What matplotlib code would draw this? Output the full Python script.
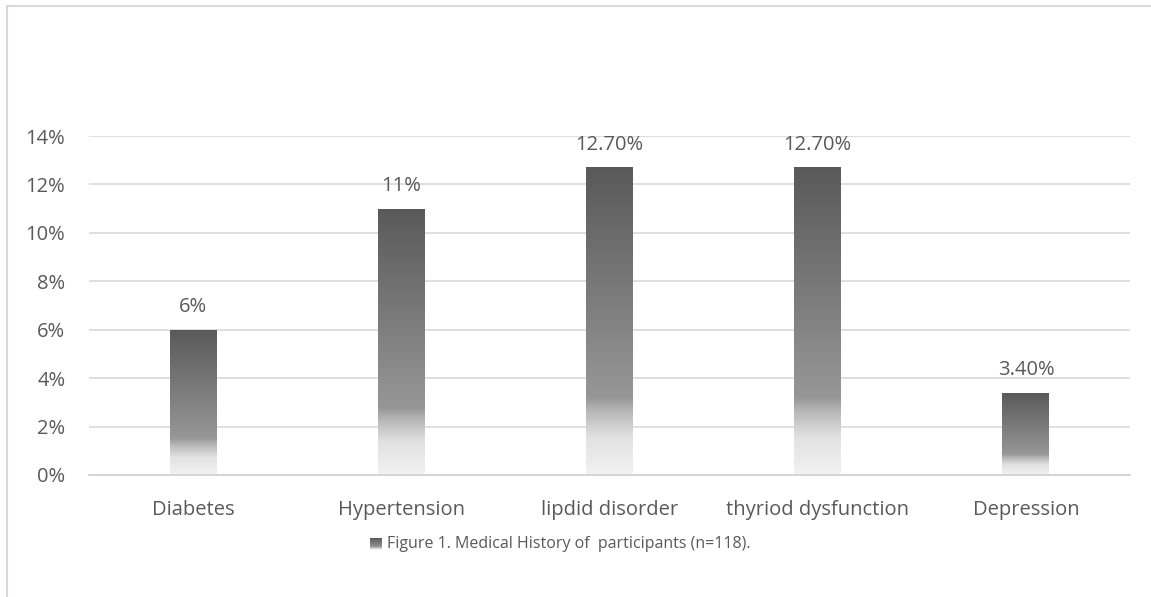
import numpy as np
import matplotlib
matplotlib.use("Agg")
import matplotlib.pyplot as plt
from matplotlib.colors import LinearSegmentedColormap
from matplotlib.lines import Line2D

categories = ["Diabetes", "Hypertension", "lipdid disorder", "thyriod dysfunction", "Depression"]
values = [6.0, 11.0, 12.7, 12.7, 3.4]
value_labels = ["6%", "11%", "12.70%", "12.70%", "3.40%"]
y_ticks = [0, 2, 4, 6, 8, 10, 12, 14]
y_tick_labels = ["0%", "2%", "4%", "6%", "8%", "10%", "12%", "14%"]
legend_label = "Figure 1. Medical History of  participants (n=118)."

plt.rcParams["font.family"] = ["Open Sans", "DejaVu Sans"]
text_color = "#595959"
grid_color = "#d9d9d9"
fs = 14.5

# vertical gradient: dark top, mid-grey most of the way down, fading to near white at the base
grad_cmap = LinearSegmentedColormap.from_list(
    "bar_grad",
    [(0.0, "#f2f2f2"), (0.12, "#e2e2e2"), (0.21, "#b5b5b5"), (0.25, "#979797"), (1.0, "#595959")],
)

fig = plt.figure(figsize=(11.51, 5.97), dpi=100)
ax = fig.add_axes([89 / 1151, 1 - 475 / 597, (1130 - 89) / 1151, (475 - 136) / 597])

x = np.arange(len(categories))
bar_width = 0.225
bars = ax.bar(x, values, width=bar_width, color="none", edgecolor="none", zorder=3)

grad = np.linspace(0, 1, 256).reshape(-1, 1)
for rect, val, lab in zip(bars, values, value_labels):
    x0 = rect.get_x()
    im = ax.imshow(grad, cmap=grad_cmap, origin="lower", aspect="auto",
                   extent=(x0, x0 + rect.get_width(), 0, val), zorder=3,
                   interpolation="bilinear")
    im.set_clip_path(rect)
    ax.annotate(lab, (rect.get_x() + rect.get_width() / 2, val),
                xytext=(0, 9), textcoords="offset points", ha="center", va="bottom",
                fontsize=fs, color=text_color)

ax.set_xlim(-0.5, len(categories) - 0.5)
ax.set_ylim(0, 14)
ax.set_yticks(y_ticks)
ax.set_yticklabels(y_tick_labels)
ax.set_xticks(x)
ax.set_xticklabels(categories)
ax.tick_params(axis="both", length=0, labelsize=fs, labelcolor=text_color)
ax.tick_params(axis="y", pad=17)
ax.tick_params(axis="x", pad=18)
ax.yaxis.grid(True, color=grid_color, linewidth=1.2, zorder=0)
ax.set_axisbelow(True)
for s in ["top", "right", "left"]:
    ax.spines[s].set_visible(False)
ax.spines["bottom"].set_color("#d0d0d0")
ax.spines["bottom"].set_linewidth(1.2)
ax.spines["bottom"].set_zorder(4)

# legend swatch with the same gradient
sw = fig.add_axes([370 / 1151, 1 - 550 / 597, 12 / 1151, 12 / 597])
sw.imshow(grad, cmap=grad_cmap, origin="lower", aspect="auto", extent=(0, 1, 0, 1))
sw.axis("off")
fig.text(387 / 1151, 1 - 544 / 597, legend_label, fontsize=11.5, color=text_color,
         ha="left", va="center")

# chart area border (left and top edges)
fig.add_artist(Line2D([7.5 / 1151, 7.5 / 1151], [0, 1 - 5.5 / 597], transform=fig.transFigure,
                      color=grid_color, linewidth=1.5))
fig.add_artist(Line2D([7.5 / 1151, 1], [1 - 5.5 / 597, 1 - 5.5 / 597], transform=fig.transFigure,
                      color=grid_color, linewidth=1.5))

fig.savefig("out.png", dpi=100, facecolor="white")
